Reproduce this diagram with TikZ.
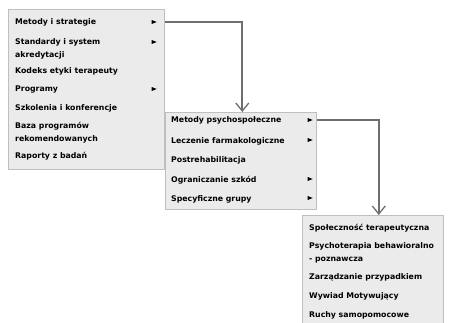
\documentclass[tikz,border=0pt]{standalone}
\usepackage{fontspec}
\setmainfont{DejaVu Sans}
\usetikzlibrary{arrows.meta}
\usetikzlibrary{positioning,shapes.geometric}
\definecolor{linkgray}{HTML}{6E6E6E}
\definecolor{menufill}{HTML}{EBEBEB}

\begin{document}
\begin{tikzpicture}[x=1pt,y=-1pt,
    menu/.style={draw=gray!50, fill=menufill, line width=0.6pt, inner sep=0, anchor=north west},
    item/.style={anchor=west, inner sep=0, align=left, font=\bfseries\fontsize{7.8}{13}\selectfont},
    more/.style={isosceles triangle, isosceles triangle stretches, fill=black, inner sep=0,
        minimum width=4pt, minimum height=5pt},
    link/.style={draw=linkgray, line width=2.2pt,
        -{Straight Barb[length=8pt,width=13pt,line width=1.3pt]}}
]

\useasboundingbox (0,0) rectangle (453,322);

%%%

    \node[menu, minimum width=156pt, minimum height=160pt] (menu1) at (8,9) {};
    \node[menu, minimum width=151pt, minimum height=97pt] (menu2) at (165,112) {};
    \node[menu, minimum width=141pt, minimum height=108pt] (menu3) at (302,215) {};

    \node[item] (m1a) at (15,22) {Metody i strategie};
    \node[item] (m1b) at (15,48.5) {Standardy i system\\akredytacji};
    \node[item] (m1c) at (15,71) {Kodeks etyki terapeuty};
    \node[item] (m1d) at (15,89) {Programy};
    \node[item] (m1e) at (15,108) {Szkolenia i konferencje};
    \node[item] (m1f) at (15,132.5) {Baza programów\\rekomendowanych};
    \node[item] (m1g) at (15,156) {Raporty z badań};

    \node[more] (t1a) at (153,22) {};
    \node[more] (t1b) at (153,42) {};
    \node[more] (t1d) at (153,89) {};

    \node[item] (m2a) at (171,120) {Metody psychospołeczne};
    \node[item] (m2b) at (171,141) {Leczenie farmakologiczne};
    \node[item] (m2c) at (171,160) {Postrehabilitacja};
    \node[item] (m2d) at (171,180) {Ograniczanie szkód};
    \node[item] (m2e) at (171,199) {Specyficzne grupy};

    \node[more] (t2a) at (309,120) {};
    \node[more] (t2b) at (309,140) {};
    \node[more] (t2d) at (309,179) {};
    \node[more] (t2e) at (309,198) {};

    \node[item] (m3a) at (309,228) {Społeczność terapeutyczna};
    \node[item] (m3b) at (309,253) {Psychoterapia behawioralno\\- poznawcza};
    \node[item] (m3c) at (309,277) {Zarządzanie przypadkiem};
    \node[item] (m3d) at (309,296) {Wywiad Motywujący};
    \node[item] (m3e) at (309,315) {Ruchy samopomocowe};

    \draw[link] (menu1.east |- t1a) -| ([xshift=1.5pt]menu2.north);
    \draw[link] (menu2.east |- t2a) -| ([xshift=6pt]menu3.north);

\end{tikzpicture}
\end{document}
